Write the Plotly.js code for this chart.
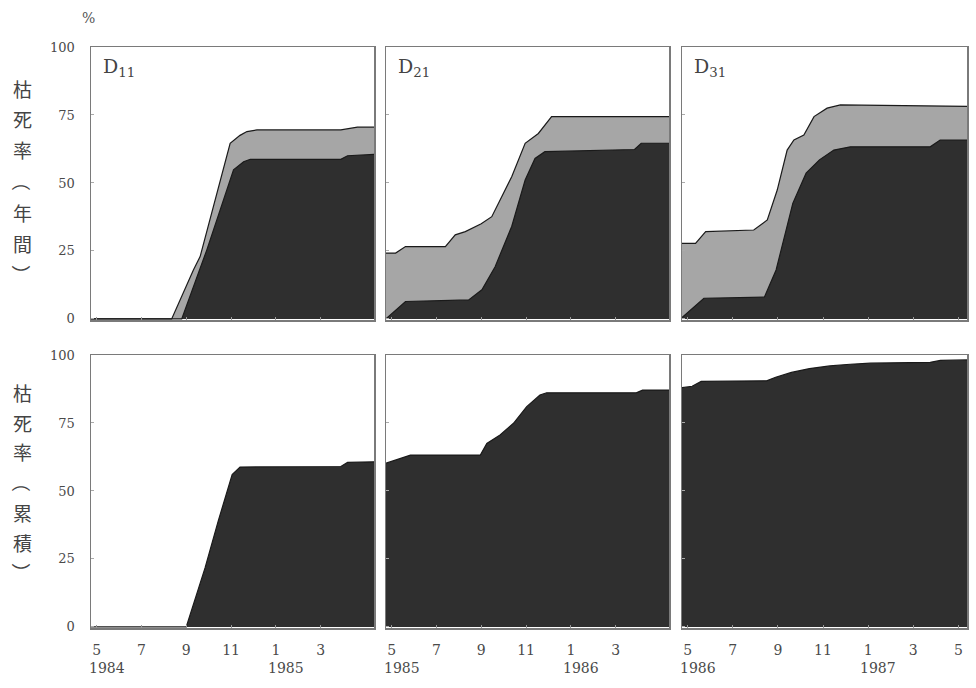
<!DOCTYPE html>
<html>
<head>
<meta charset="utf-8">
<script src="https://cdn.plot.ly/plotly-3.0.1.min.js"></script>
<style>html,body{margin:0;padding:0;background:#fff;}#chart{width:976px;height:688px;}</style>
</head>
<body>
<div id="chart"></div>
<script>
// ---- Data (months counted from May of the first year: 0 = May) ----
const panelLabels = ['D<sub>11</sub>', 'D<sub>21</sub>', 'D<sub>31</sub>'];

// Annual mortality (top row): grey = outer (total) curve, dark = inner curve
const annD11_grayX = [-0.25, 3.35, 4.32, 4.62, 5.96, 6.4, 6.71, 7.16, 10.9, 11.3, 11.64, 12.4];
const annD11_grayY = [0, 0, 18, 22.9, 64.6, 67.5, 68.9, 69.5, 69.5, 70, 70.5, 70.5];
const annD11_darkX = [-0.25, 3.8, 4.92, 6.11, 6.56, 6.86, 10.9, 11.2, 12.4];
const annD11_darkY = [0, 0, 25.4, 54.8, 57.8, 58.7, 58.7, 60, 60.5];

const annD21_grayX = [-0.25, 0.18, 0.62, 2.4, 2.84, 3.29, 4.0, 4.47, 4.92, 5.36, 5.96, 6.55, 7.14, 12.4];
const annD21_grayY = [24.2, 24.2, 26.6, 26.6, 30.9, 32.1, 35, 37.6, 45, 52.3, 64.6, 68.2, 74.4, 74.4];
const annD21_darkX = [-0.25, 0.62, 3.44, 4.03, 4.62, 5.36, 5.96, 6.4, 6.84, 10.84, 11.14, 12.4];
const annD21_darkY = [0, 6.4, 7, 10.7, 19.2, 34, 51.1, 59, 61.5, 62.3, 64.6, 64.6];

const annD31_grayX = [-0.25, 0.35, 0.8, 2.93, 3.53, 3.97, 4.41, 4.71, 5.15, 5.6, 6.18, 6.77, 12.4];
const annD31_grayY = [27.8, 27.8, 32.1, 32.7, 36.4, 47.4, 62.1, 65.8, 67.6, 74.4, 77.5, 78.7, 78.2];
const annD31_darkX = [-0.25, 0.72, 3.4, 3.92, 4.66, 5.25, 5.84, 6.48, 7.21, 10.75, 11.19, 12.4];
const annD31_darkY = [0.5, 7.6, 8, 18, 42.5, 53.6, 58.5, 62.1, 63.3, 63.3, 65.8, 65.8];

// Cumulative mortality (bottom row)
const cumD11_X = [-0.25, 4.0, 4.84, 5.43, 6.05, 6.4, 10.9, 11.2, 12.4];
const cumD11_Y = [0, 0, 21.7, 39, 56, 58.8, 59, 60.5, 60.7];
const cumD21_X = [-0.25, 0.4, 0.84, 3.96, 4.25, 4.84, 5.44, 6.03, 6.62, 6.92, 10.92, 11.2, 12.4];
const cumD21_Y = [60.2, 62, 63.2, 63.2, 67.5, 70.6, 74.9, 81, 85.3, 86.1, 86.1, 87.1, 87.1];
const cumD31_X = [-0.25, 0.2, 0.6, 3.5, 3.9, 4.6, 5.4, 6.3, 7.2, 8.1, 10.75, 11.2, 12.4];
const cumD31_Y = [88, 88.5, 90.3, 90.5, 91.8, 93.6, 95, 96, 96.6, 97, 97.3, 98, 98.2];

// Tick labels
const tickValsShort = [0, 2, 4, 6, 8, 10];
const tickTextShort = ['5', '7', '9', '11', '1', '3'];
const tickValsLong = [0, 2, 4, 6, 8, 10, 12];
const tickTextLong = ['5', '7', '9', '11', '1', '3', '5'];
const yearTickVals = [0, 8];
const yearLabels = [['1984', '1985'], ['1985', '1986'], ['1986', '1987']];
const yTickVals = [0, 25, 50, 75, 100];
const yTickText = ['0', '25', '50', '75', '100'];
const yTitleTop = ['枯', '死', '率', '（', '年', '間', '）'];
const yTitleBottom = ['枯', '死', '率', '（', '累', '積', '）'];

// ---- Styling ----
const W = 976, H = 688;
const DARK = '#2f2f2f', GRAY = '#a6a6a6', EDGE = '#1a1a1a';
const xPx = [[91, 374], [386, 669], [682, 967]];
const yPx = [[47, 320], [355, 628]];
const xRange = [-0.25, 12.38];
const tickFont = {family: 'DejaVu Serif, Liberation Serif, serif', size: 13, color: '#4a4a4a'};

function area(x, y, fill, ax) {
  return {x: x, y: y, type: 'scatter', mode: 'lines', fill: 'tozeroy',
    fillcolor: fill, line: {color: EDGE, width: 1.2, shape: 'linear'},
    xaxis: 'x' + ax, yaxis: 'y' + ax, hoverinfo: 'skip', showlegend: false};
}

const data = [
  area(annD11_grayX, annD11_grayY, GRAY, 1), area(annD11_darkX, annD11_darkY, DARK, 1),
  area(annD21_grayX, annD21_grayY, GRAY, 2), area(annD21_darkX, annD21_darkY, DARK, 2),
  area(annD31_grayX, annD31_grayY, GRAY, 3), area(annD31_darkX, annD31_darkY, DARK, 3),
  area(cumD11_X, cumD11_Y, DARK, 4),
  area(cumD21_X, cumD21_Y, DARK, 5),
  area(cumD31_X, cumD31_Y, DARK, 6)
];

const layout = {
  width: W, height: H, margin: {l: 0, r: 0, t: 0, b: 0},
  paper_bgcolor: '#fff', plot_bgcolor: '#fff', showlegend: false,
  annotations: []
};

for (let r = 0; r < 2; r++) {
  for (let c = 0; c < 3; c++) {
    const i = r * 3 + c + 1;
    const bottom = r === 1;
    const lastCol = c === 2;
    layout['xaxis' + i] = {
      domain: [xPx[c][0] / W, xPx[c][1] / W], range: xRange, anchor: 'y' + i,
      showgrid: false, zeroline: false, showline: true, mirror: true,
      linecolor: '#7a7a7a', linewidth: 1.5,
      ticks: 'inside', ticklen: 3, tickcolor: '#999',
      tickvals: lastCol ? tickValsLong : tickValsShort,
      ticktext: lastCol ? tickTextLong : tickTextShort,
      showticklabels: bottom, tickfont: Object.assign({}, tickFont, {size: 14}),
      ticklabelstandoff: 9
    };
    layout['yaxis' + i] = {
      domain: [1 - yPx[r][1] / H, 1 - yPx[r][0] / H], range: [-0.4, 100], anchor: 'x' + i,
      showgrid: false, zeroline: false, showline: true, mirror: true,
      linecolor: '#7a7a7a', linewidth: 1.5,
      ticks: 'inside', ticklen: 3, tickcolor: '#aaa',
      tickvals: yTickVals, ticktext: yTickText,
      showticklabels: c === 0, tickfont: tickFont, ticklabelstandoff: 12
    };
    if (bottom) {
      yearLabels[c].forEach((lab, k) => {
        layout.annotations.push({
          xref: 'x' + i, yref: 'paper', x: yearTickVals[k] + 0.45, y: 1 - 668 / H,
          text: lab, showarrow: false, xanchor: 'center', yanchor: 'middle',
          font: Object.assign({}, tickFont, {size: 14})
        });
      });
    } else {
      layout.annotations.push({
        xref: 'paper', yref: 'paper', x: (xPx[c][0] + 10) / W, y: 1 - 67 / H,
        text: panelLabels[c], showarrow: false, xanchor: 'left', yanchor: 'middle',
        font: {family: 'DejaVu Serif, Liberation Serif, serif', size: 19, color: '#444'}
      });
    }
  }
}

// vertical Japanese axis titles (one character per line, brackets turned upright)
function addVertical(chars, y0, step) {
  chars.forEach((ch, k) => {
    const isBracket = ch === '（' || ch === '）';
    layout.annotations.push({xref: 'paper', yref: 'paper', x: 22 / W, y: 1 - (y0 + k * step) / H,
      text: ch, showarrow: false, xanchor: 'center', yanchor: 'middle',
      textangle: isBracket ? 90 : 0,
      font: {family: 'Noto Sans CJK JP, sans-serif', size: 19, color: '#444'}});
  });
}
addVertical(yTitleTop, 88, 31);
addVertical(yTitleBottom, 392, 30);

// % unit
layout.annotations.push({xref: 'paper', yref: 'paper', x: 88 / W, y: 1 - 18 / H,
  text: '%', showarrow: false, xanchor: 'center', yanchor: 'middle',
  font: {family: 'DejaVu Serif, serif', size: 14, color: '#555'}});

Plotly.newPlot('chart', data, layout, {staticPlot: true});
</script>
</body>
</html>
